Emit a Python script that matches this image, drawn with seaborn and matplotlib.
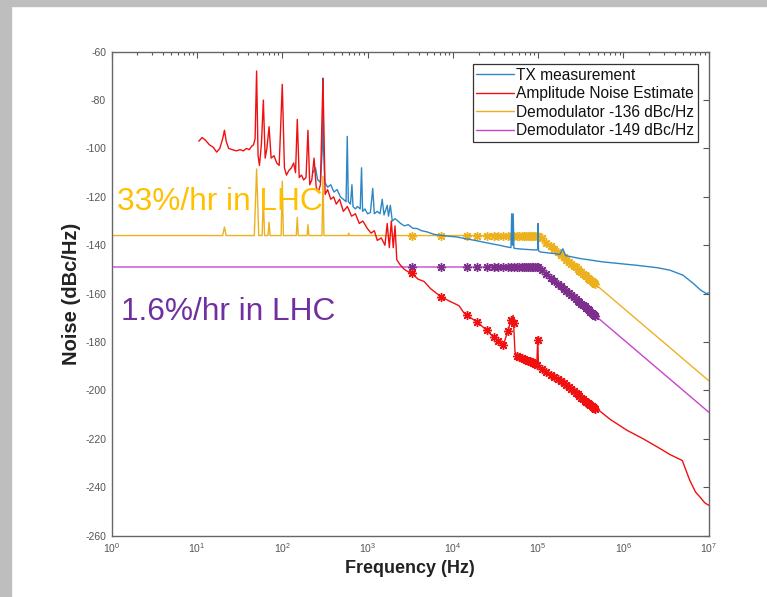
import matplotlib
matplotlib.use("Agg")
import matplotlib.pyplot as plt
import seaborn as sns
from matplotlib.patches import Rectangle
from matplotlib.ticker import LogLocator, NullFormatter, FixedLocator

# ---------------- data ----------------
tx_freq = [230, 245, 260, 280, 295, 300, 305, 315, 340, 370, 404, 440, 480, 520, 560, 578, 595,
           630, 656, 675, 720, 760, 820, 850, 875, 930, 1000, 1080, 1150, 1200, 1300, 1400, 1485,
           1560, 1700, 1760, 1850, 1950, 2100, 2440, 2700, 3000, 3400, 3800, 4300, 5000, 6000,
           7200, 9000, 11200, 14000, 17500, 22000, 27500, 35000, 43000, 48000, 49000, 50000,
           51000, 52000, 55000, 70000, 96500, 99000, 100000, 101000, 106000, 150000, 180000,
           195000, 210000, 310000, 575000, 1430000, 2500000, 3500000, 5000000, 6600000,
           8000000, 9400000, 10000000]
tx_db = [-110, -108, -113, -114, -100, -71, -100, -114, -116, -115, -118, -117, -120, -121, -122,
         -95, -122, -123, -115, -124, -125, -124, -125, -108, -126, -125, -127, -126.5, -116.5,
         -127, -126, -127, -121, -127.5, -123.5, -128, -123.5, -130, -129, -131, -132, -131.5,
         -133, -133.1, -134, -134.5, -135.5, -135.9, -136.3, -136.6, -137.3, -137.9, -138.6,
         -139.3, -140, -140.7, -141, -127, -140, -127, -141.2, -141.4, -141.7, -142, -141.5,
         -131, -142.3, -142.8, -143.4, -143.8, -141.5, -144.3, -145.5, -146.9, -148.3, -149.3,
         -150.3, -152.4, -155.8, -158.5, -160, -159.7]

amp_freq = [10.5, 11.5, 12.5, 14, 15.5, 17, 18.5, 20, 21, 22, 23.5, 26, 29, 32, 35, 38, 41, 44,
            46, 48, 50, 52, 54, 57, 60, 63, 66, 70, 74, 80, 86, 92, 100, 106, 112, 120, 128, 136,
            143, 150, 158, 168, 178, 190, 200, 210, 222, 236, 250, 265, 280, 300, 318, 340, 370,
            400, 430, 470, 520, 580, 650, 720, 800, 880, 990, 1100, 1200, 1300, 1450, 1600, 1700,
            1800, 1900, 2000, 2100, 2200, 2400, 2700, 3000, 3400, 3900, 4600, 5500, 6500, 7500,
            9000, 11800, 13500, 14700, 17000, 19000, 22000, 25000, 29700, 34000, 39000, 44400,
            48000, 51000, 53500, 55500, 64000, 74000, 85000, 96500, 99000, 101000, 128000,
            182000, 282000, 445000, 490000, 700000, 1100000, 1700000, 2700000, 3500000, 4900000,
            6000000, 7000000, 7900000, 9000000, 10000000]
amp_db = [-97, -95.5, -96.5, -98.5, -99.5, -101.5, -100, -96, -92.5, -97, -100, -100.5, -101,
          -100.5, -101, -100, -100.5, -99, -98.5, -96, -68, -103, -107, -98, -80, -104, -100, -91,
          -104, -103, -106, -107, -73.5, -108, -111, -109, -108, -106, -110, -88, -112, -111,
          -113, -112, -92.5, -115, -113, -104, -116, -118, -115, -71, -119, -117, -121, -120,
          -123, -121, -126, -124, -128, -127, -131, -130, -133, -135, -134, -138, -137, -140,
          -131, -141, -130, -141, -132, -146, -148, -150, -151, -152, -154, -155, -158, -160,
          -161.5, -163, -165, -168, -169, -170.5, -171.7, -173.5, -175.2, -177.9, -179.5,
          -181.4, -175.2, -171, -169, -184, -185.5, -186.5, -187.6, -188.5, -189.6, -178,
          -190.5, -192.4, -195.9, -201.4, -206.9, -207.6, -212, -216.5, -220, -224.1, -226.5,
          -229, -237.2, -242, -244.1, -246.5, -247.5]

d136_freq = [1, 20, 21, 22, 47, 50, 53, 58, 60, 62, 68, 70, 72, 97, 100, 103, 146, 150, 154,
             195, 200, 205, 292, 300, 308, 590, 600, 610, 100000, 10000000]
d136_db = [-136, -136, -132.5, -136, -136, -108.5, -136, -136, -120.5, -136, -136, -130.5, -136,
           -136, -113.5, -136, -136, -128.5, -136, -136, -131.5, -136, -136, -111.5, -136,
           -136, -135, -136, -136, -196]

d149_freq = [1, 100000, 10000000]
d149_db = [-149, -149, -209]

# measurement points (asterisk markers)
mk_freq = [3300, 7300, 14500, 19000, 25000, 30000, 34000, 39000, 44000, 48000, 52000, 56000,
           60000, 64000, 68000, 72000, 76000, 80000, 84000, 88000, 92000, 96000, 100000,
           110000, 125000, 140000, 155000, 170000, 185000, 200000, 215000, 230000, 245000,
           260000, 275000, 290000, 305000, 320000, 335000, 350000, 365000, 380000, 395000,
           410000, 425000, 440000, 455000, 470000]
amp_mk = [-151.5, -161.3, -169, -171.7, -175.2, -178, -179.5, -181.4, -175.5, -171, -172,
          -185.6, -186.2, -186.5, -187, -187.5, -187.8, -188, -188.3, -188.8, -189.2, -189.6,
          -179, -191.3, -192.3, -193.5, -194.5, -195.4, -196.2, -197, -197.8, -198.6, -199.4,
          -200.2, -201, -201.6, -202.3, -203, -203.6, -204.2, -204.8, -205.3, -205.8, -206.2,
          -206.6, -206.9, -207.2, -207.5]
d136_mk = [-136] * 23 + [-137.2, -138.9, -140.4, -141.7, -142.9, -144.0, -145.0, -146.0,
                         -146.9, -147.7, -148.5, -149.2, -149.9, -150.5, -151.2, -151.8,
                         -152.3, -152.9, -153.4, -153.9, -154.4, -154.9, -155.3, -155.7,
                         -156.2]
d149_mk = [-149] * 23 + [-150.2, -151.9, -153.4, -154.7, -155.9, -157.0, -158.0, -159.0,
                         -159.9, -160.7, -161.5, -162.2, -162.9, -163.5, -164.2, -164.8,
                         -165.3, -165.9, -166.4, -166.9, -167.4, -167.9, -168.3, -168.7,
                         -169.2]

labels = ["TX measurement", "Amplitude Noise Estimate",
          "Demodulator -136 dBc/Hz", "Demodulator -149 dBc/Hz"]
y_ticks = [-260, -240, -220, -200, -180, -160, -140, -120, -100, -80, -60]

# ---------------- style ----------------
sns.set_theme(style="white")
plt.rcParams["font.family"] = ["Liberation Sans", "DejaVu Sans"]
plt.rcParams["axes.unicode_minus"] = False
plt.rcParams["mathtext.default"] = "regular"

C_TX = "#2F86C4"
C_AMP = "#F01010"
C_Y = "#EDB120"
C_PL = "#C844CC"
C_PM = "#7E2F8E"

W, H = 767, 597
fig = plt.figure(figsize=(W / 100, H / 100), dpi=100)
fig.patch.set_facecolor("white")
fig.patches.append(Rectangle((0, 0), 11 / W, 1, transform=fig.transFigure,
                             color="#BEBEBE", zorder=0))
fig.patches.append(Rectangle((0, 1 - 6 / H), 1, 6 / H, transform=fig.transFigure,
                             color="#BEBEBE", zorder=0))

ax = fig.add_axes([111.7 / W, (H - 535.5) / H, 597 / W, 483.8 / H])
ax.set_xscale("log")

common = dict(ax=ax, estimator=None, sort=False)
mk_style = dict(linestyle="", marker=(8, 2, 0), markersize=6.5, markeredgewidth=1.0)

sns.lineplot(x=d136_freq, y=d136_db, color=C_Y, lw=1.0, zorder=2, **common)
h_y = ax.lines[-1]
sns.lineplot(x=d149_freq, y=d149_db, color=C_PL, lw=1.0, zorder=2, **common)
h_p = ax.lines[-1]
sns.lineplot(x=mk_freq, y=d136_mk, color=C_Y, markeredgecolor=C_Y, zorder=3,
             **mk_style, **common)
sns.lineplot(x=mk_freq, y=d149_mk, color=C_PM, markeredgecolor=C_PM, zorder=3,
             **mk_style, **common)
sns.lineplot(x=tx_freq, y=tx_db, color=C_TX, lw=1.0, zorder=4, **common)
h_tx = ax.lines[-1]
sns.lineplot(x=amp_freq, y=amp_db, color=C_AMP, lw=1.0, zorder=5, **common)
h_amp = ax.lines[-1]
sns.lineplot(x=mk_freq, y=amp_mk, color=C_AMP, markeredgecolor=C_AMP, zorder=6,
             **mk_style, **common)

ax.set_xlim(1, 1e7)
ax.set_ylim(-260, -60)
ax.xaxis.set_major_locator(LogLocator(base=10, numticks=20))
ax.xaxis.set_minor_locator(LogLocator(base=10, subs=(2, 3, 4, 5, 6, 7, 8, 9), numticks=100))
ax.xaxis.set_minor_formatter(NullFormatter())
ax.yaxis.set_major_locator(FixedLocator(y_ticks))
ax.set_yticklabels([str(v) for v in y_ticks])

ax.tick_params(axis="both", which="both", direction="in", top=True, right=True,
               color="#555555", labelcolor="#555555", labelsize=7.5, width=0.8)
ax.tick_params(which="major", length=4.5, pad=4)
ax.tick_params(which="minor", length=2.5)
for s in ax.spines.values():
    s.set_color("#666666")
    s.set_linewidth(1.0)

ax.set_xlabel("Frequency (Hz)", fontsize=13, fontweight="bold", color="#222222", labelpad=4)
ax.set_ylabel("Noise (dBc/Hz)", fontsize=14.5, fontweight="bold", color="#222222")
ax.yaxis.set_label_coords(-0.052, 0.5)

leg = ax.legend([h_tx, h_amp, h_y, h_p], labels, loc="upper right",
                bbox_to_anchor=(698 / W, 1 - 64 / H), bbox_transform=fig.transFigure,
                borderaxespad=0, fontsize=11.2, handlelength=2.4, handletextpad=0.15,
                labelspacing=0.22, borderpad=0.25, fancybox=False, framealpha=1,
                edgecolor="#333333")
leg.get_frame().set_linewidth(0.9)
for t in leg.get_texts():
    t.set_color("#111111")

fig.text(117 / W, 1 - 210 / H, "33%/hr in LHC", fontsize=22.8, color="#FFC000",
         ha="left", va="baseline", zorder=10)
fig.text(121 / W, 1 - 319.5 / H, "1.6%/hr in LHC", fontsize=22.8, color="#7030A0",
         ha="left", va="baseline", zorder=10)

fig.savefig("out.png", dpi=100, facecolor="white")
